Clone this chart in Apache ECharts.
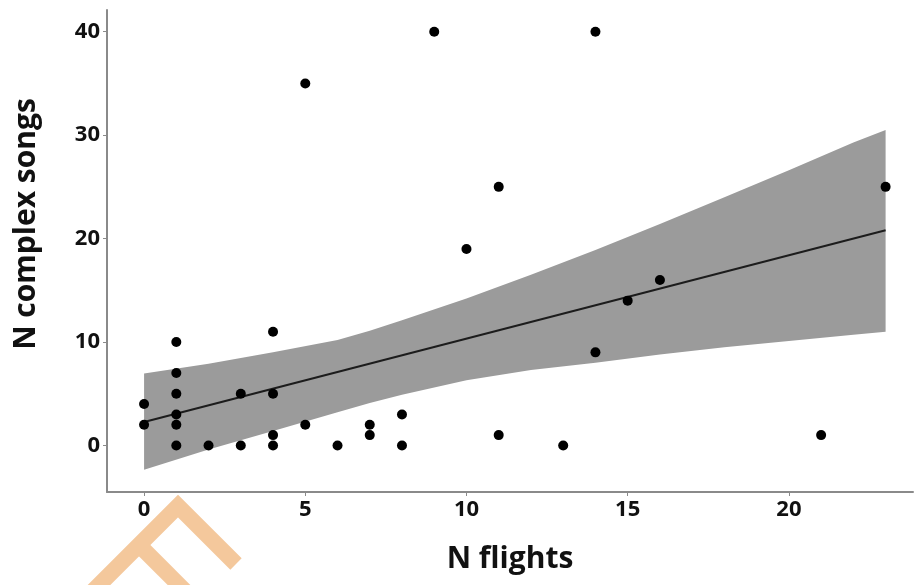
<!DOCTYPE html>
<html>
<head>
<meta charset="utf-8">
<script src="https://cdn.jsdelivr.net/npm/echarts@6/dist/echarts.min.js"></script>
<style>
  html, body { margin: 0; padding: 0; background: #fff; }
  #chart { width: 914px; height: 585px; }
</style>
</head>
<body>
<div id="chart"></div>
<script>
  // observed birds: flights vs complex songs
  var flights = [0, 0, 1, 1, 1, 1, 1, 1, 2, 3, 3, 4, 4, 4, 4, 5, 5, 6, 7, 7, 8, 8, 9, 10, 11, 11, 13, 14, 14, 15, 16, 21, 23];
  var songs   = [4, 2, 10, 7, 5, 3, 2, 0, 0, 5, 0, 11, 5, 1, 0, 35, 2, 0, 2, 1, 3, 0, 40, 19, 25, 1, 0, 40, 9, 14, 16, 1, 25];

  // fitted line (ends) and confidence band
  var fitX = [0, 23];
  var fitY = [2.26, 20.8];
  var bandX     = [0, 2, 4, 6, 7, 8, 10, 12, 14, 16, 18, 20, 22, 23];
  var bandUpper = [6.95, 7.9, 9.0, 10.2, 11.1, 12.1, 14.2, 16.5, 18.9, 21.4, 24.0, 26.6, 29.3, 30.5];
  var bandLower = [-2.35, -0.4, 1.4, 3.2, 4.1, 4.9, 6.3, 7.3, 8.0, 8.8, 9.5, 10.1, 10.7, 11.0];

  var xTicks = [0, 5, 10, 15, 20];
  var yTicks = [0, 10, 20, 30, 40];

  var chart = echarts.init(document.getElementById('chart'));

  var points = [];
  for (var i = 0; i < flights.length; i++) {
    points.push([flights[i], songs[i]]);
  }
  var fit = [];
  for (var j = 0; j < fitX.length; j++) {
    fit.push([fitX[j], fitY[j]]);
  }

  var labelFont = {
    color: '#111',
    fontSize: 22,
    fontWeight: 'bold',
    fontFamily: 'Open Sans'
  };
  var axisGray = { color: '#8a8a8a', width: 2 };

  var option = {
    animation: false,
    backgroundColor: '#fff',
    grid: { left: 107, right: 1, top: 10, bottom: 93 },
    xAxis: {
      type: 'value',
      min: -1.15,
      max: 23.85,
      name: 'N flights',
      nameLocation: 'middle',
      nameGap: 52,
      nameTextStyle: { color: '#111', fontSize: 30, fontWeight: 'bold', fontFamily: 'Open Sans' },
      axisLine: { show: true, onZero: false, lineStyle: axisGray },
      axisTick: { show: true, length: 4, customValues: xTicks, lineStyle: { color: '#8a8a8a', width: 1 } },
      axisLabel: Object.assign({ customValues: xTicks, margin: 7 }, labelFont),
      splitLine: { show: false }
    },
    yAxis: {
      type: 'value',
      min: -4.5,
      max: 42.1,
      name: 'N complex songs',
      nameLocation: 'middle',
      nameGap: 66,
      nameRotate: 90,
      nameTextStyle: {
        color: '#111', fontSize: 30, fontWeight: 'bold', fontFamily: 'Open Sans',
        padding: [0, 0, 0, 54]
      },
      axisLine: { show: true, onZero: false, lineStyle: axisGray },
      axisTick: { show: true, length: 4, customValues: yTicks, lineStyle: { color: '#8a8a8a', width: 1 } },
      axisLabel: Object.assign({ customValues: yTicks, margin: 7 }, labelFont),
      splitLine: { show: false }
    },
    series: [
      {
        type: 'custom',
        z: 1,
        silent: true,
        data: [[0, 0]],
        renderItem: function (params, api) {
          var pts = [];
          for (var k = 0; k < bandX.length; k++) {
            pts.push(api.coord([bandX[k], bandUpper[k]]));
          }
          for (var m = bandX.length - 1; m >= 0; m--) {
            pts.push(api.coord([bandX[m], bandLower[m]]));
          }
          return {
            type: 'polygon',
            shape: { points: pts },
            style: { fill: '#9b9b9b' }
          };
        }
      },
      {
        type: 'line',
        z: 2,
        data: fit,
        symbol: 'none',
        lineStyle: { color: '#1c1c1c', width: 2 }
      },
      {
        type: 'scatter',
        z: 3,
        data: points,
        symbolSize: 10,
        itemStyle: { color: '#000', opacity: 1 }
      }
    ],
    graphic: [
      {
        type: 'polyline',
        z: 100,
        shape: { points: [[90, 594], [178, 506], [236, 564]] },
        style: { stroke: '#f4c89c', lineWidth: 16, fill: null, lineJoin: 'miter' }
      },
      {
        type: 'polyline',
        z: 100,
        shape: { points: [[139, 545], [190, 596]] },
        style: { stroke: '#f4c89c', lineWidth: 16, fill: null }
      }
    ]
  };

  chart.setOption(option);
</script>
</body>
</html>
